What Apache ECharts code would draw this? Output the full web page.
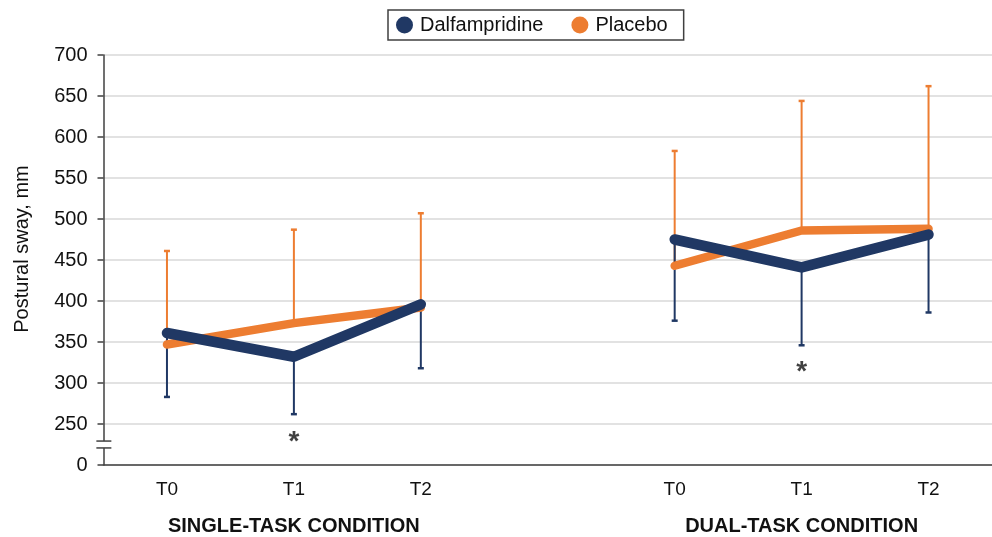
<!DOCTYPE html>
<html><head><meta charset="utf-8">
<script src="https://cdn.jsdelivr.net/npm/echarts@6/dist/echarts.min.js"></script>
<style>html,body{margin:0;padding:0;background:#fff}#c{width:992px;height:537px}</style>
</head><body><div id="c"></div>
<script>
// ---- data ----
const categories = ['T0', 'T1', 'T2', '', 'T0', 'T1', 'T2'];
const groupLabels = ['', 'SINGLE-TASK CONDITION', '', '', '', 'DUAL-TASK CONDITION', ''];
const dalfMean = [361, 332, 396, null, 475, 441, 481];
const placeboMean = [347, 373, 392, null, 443, 486, 488];
const dalfLower = [283, 262, 318, null, 376, 346, 386];
const placeboUpper = [461, 487, 507, null, 583, 644, 662];
const asteriskCats = [1, 5];
const asteriskValues = [183, 321];
const yTickLabels = [0, 250, 300, 350, 400, 450, 500, 550, 600, 650, 700];

// broken axis: 0..250 compressed into one step, 250..700 linear
function T(v) { if (v == null) return null; return v >= 250 ? v - 200 : v * 50 / 250; }
function labelOf(t) { return t === 0 ? String(yTickLabels[0]) : String(t + 200); }

const NAVY = '#203864', ORANGE = '#ED7D31';
const FONT = 'Liberation Sans, Arial, sans-serif';

function errSeries(name, color, means, ends) {
  const data = [];
  means.forEach((m, i) => { if (m != null) data.push([i, T(m), T(ends[i])]); });
  return {
    type: 'custom', name: name + '_err', z: 1, silent: true,
    data: data,
    renderItem: function (params, api) {
      const i = api.value(0);
      const p0 = api.coord([i, api.value(1)]);
      const p1 = api.coord([i, api.value(2)]);
      const w = 3;
      return {
        type: 'group', children: [
          { type: 'line', shape: { x1: p0[0], y1: p0[1], x2: p1[0], y2: p1[1] }, style: { stroke: color, lineWidth: 2 } },
          { type: 'line', shape: { x1: p1[0] - w, y1: p1[1], x2: p1[0] + w, y2: p1[1] }, style: { stroke: color, lineWidth: 2.5 } }
        ]
      };
    }
  };
}

const chart = echarts.init(document.getElementById('c'), null, { renderer: 'canvas' });
chart.setOption({
  animation: false,
  textStyle: { fontFamily: FONT },
  grid: { left: 103.5, top: 55, width: 890, height: 410, containLabel: false },
  legend: {
    data: ['Dalfampridine', 'Placebo'],
    top: 10, left: 388,
    icon: 'circle', itemWidth: 17, itemHeight: 17, itemGap: 28,
    borderColor: '#404040', borderWidth: 1.5, padding: [5, 16, 5, 8],
    textStyle: { fontSize: 20, color: '#111', fontFamily: FONT, padding: [0, 0, 0, 2] }
  },
  xAxis: [{
    type: 'category', data: categories, position: 'bottom',
    axisLine: { lineStyle: { color: '#404040', width: 1.5 } },
    axisTick: { show: false },
    axisLabel: { fontSize: 19, color: '#111', margin: 15, interval: 0 },
    splitLine: { show: false }
  }, {
    type: 'category', data: groupLabels, position: 'bottom',
    axisLine: { show: false }, axisTick: { show: false },
    axisLabel: { fontSize: 20, fontWeight: 'bold', color: '#111', margin: 51, interval: 0 }
  }],
  yAxis: {
    type: 'value', min: 0, max: 500, interval: 50,
    name: 'Postural sway, mm', nameLocation: 'middle', nameGap: 71,
    nameTextStyle: { fontSize: 20, color: '#111', padding: [0, 0, 0, 22] },
    axisLine: { show: true, lineStyle: { color: '#404040', width: 1.5 } },
    axisTick: { show: true, length: 6, lineStyle: { color: '#404040', width: 1.5 } },
    axisLabel: { fontSize: 20, color: '#111', margin: 16, formatter: v => labelOf(v) },
    splitLine: { show: true, lineStyle: { color: '#d9d9d9', width: 1.5 } }
  },
  series: [
    errSeries('Placebo', ORANGE, placeboMean, placeboUpper),
    errSeries('Dalfampridine', NAVY, dalfMean, dalfLower),
    {
      name: 'Placebo', type: 'line', z: 3, data: placeboMean.map(T),
      color: ORANGE, symbol: 'none', connectNulls: false,
      lineStyle: { width: 8.5, color: ORANGE, cap: 'round', join: 'round' }
    },
    {
      name: 'Dalfampridine', type: 'line', z: 4, data: dalfMean.map(T),
      color: NAVY, symbol: 'none', connectNulls: false,
      lineStyle: { width: 10.5, color: NAVY, cap: 'round', join: 'round' }
    },
    {
      name: 'sig', type: 'scatter', z: 5, silent: true, symbolSize: 1,
      itemStyle: { color: 'rgba(0,0,0,0)' },
      data: asteriskCats.map((c, i) => [c, T(asteriskValues[i])]),
      label: { show: true, position: 'inside', formatter: '*', fontSize: 28, fontWeight: 'bold', color: '#111', offset: [0, 7] }
    }
  ]
});

// axis break marks
(function () {
  const yHi = chart.convertToPixel({ yAxisIndex: 0 }, T(146));
  const yLo = chart.convertToPixel({ yAxisIndex: 0 }, T(104));
  const x = chart.convertToPixel({ xAxisIndex: 0 }, 0) - 63.6;
  chart.setOption({
    graphic: [
      { type: 'rect', shape: { x: x - 3, y: yHi, width: 6, height: yLo - yHi }, style: { fill: '#fff' }, z: 100 },
      { type: 'line', shape: { x1: x - 7, y1: yHi, x2: x + 8, y2: yHi }, style: { stroke: '#404040', lineWidth: 1.5 }, z: 101 },
      { type: 'line', shape: { x1: x - 7, y1: yLo, x2: x + 8, y2: yLo }, style: { stroke: '#404040', lineWidth: 1.5 }, z: 101 }
    ]
  });
})();
</script>
</body></html>
